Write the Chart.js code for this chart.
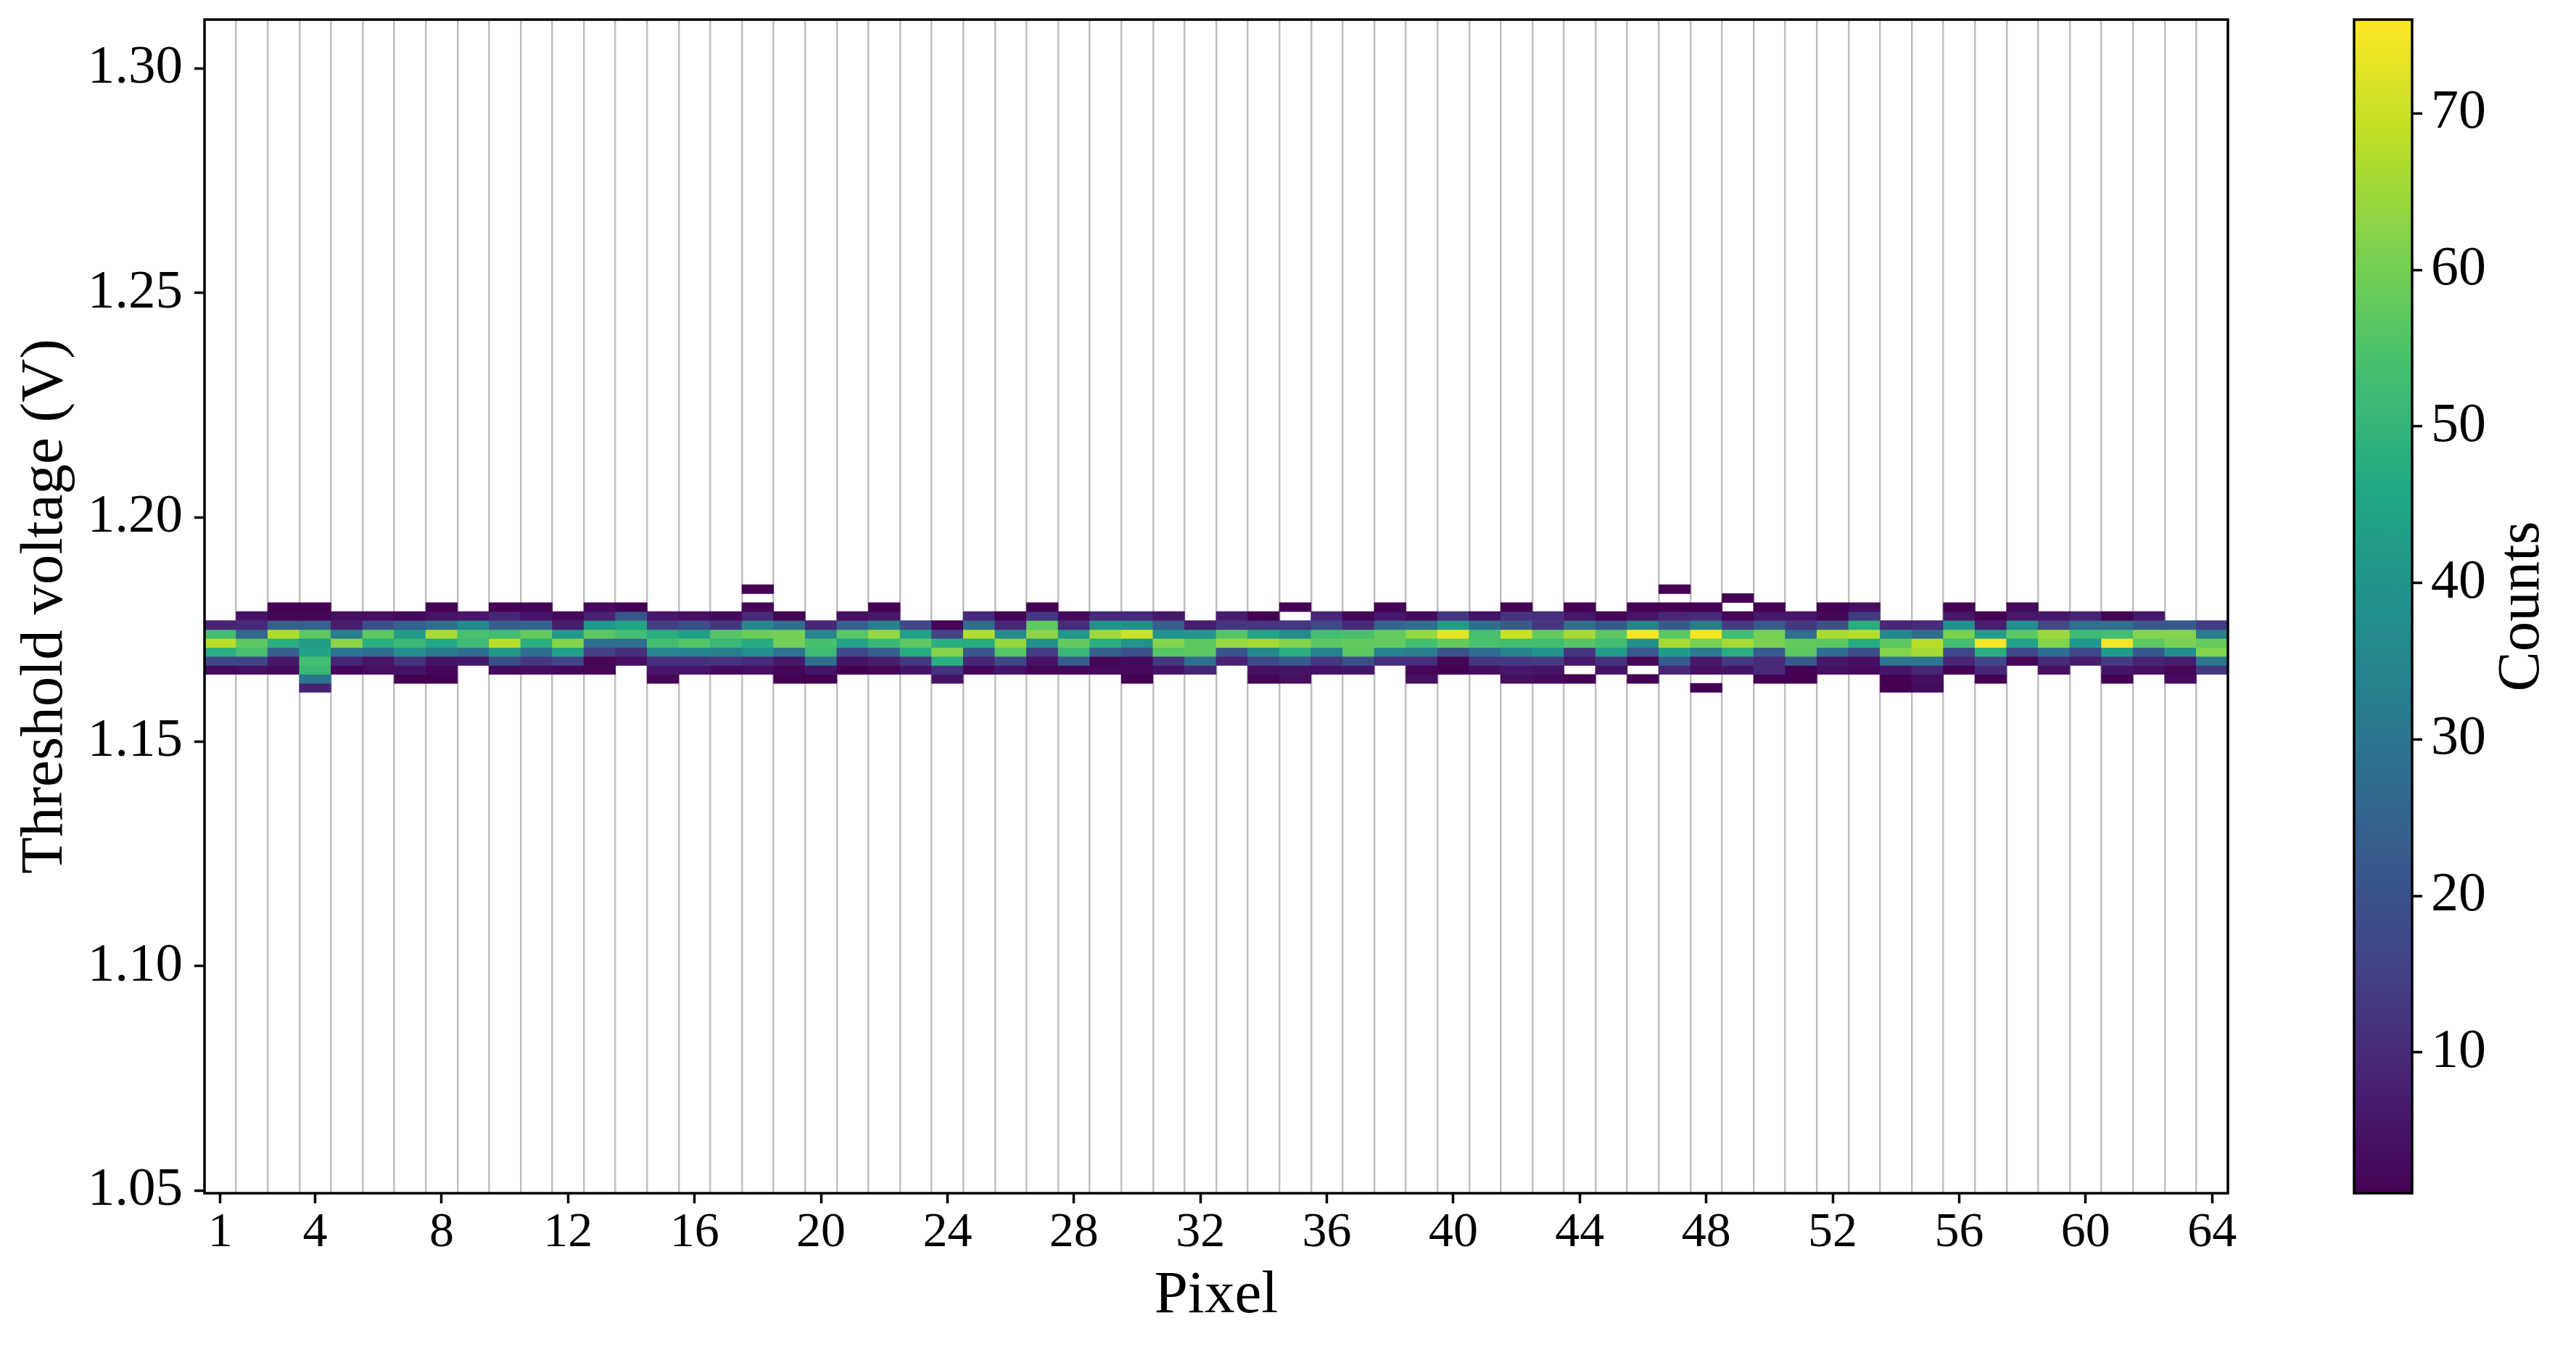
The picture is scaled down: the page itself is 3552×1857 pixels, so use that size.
<!DOCTYPE html>
<html>
<head>
<meta charset="utf-8">
<title>Threshold voltage per pixel</title>
<script src="https://cdn.jsdelivr.net/npm/chart.js@4.4.1/dist/chart.umd.min.js"></script>
<style>
    html, body { margin: 0; padding: 0; background: #fff; }
    body { width: 3552px; height: 1857px; position: relative; overflow: hidden; }
    #heatWrap { position: absolute; left: 0; top: 0; width: 3150px; height: 1857px; }
    #cbarWrap { position: absolute; left: 3150px; top: 0; width: 402px; height: 1857px; }
</style>
</head>
<body>
<div id="heatWrap"><canvas id="heatChart"></canvas></div>
<div id="cbarWrap"><canvas id="cbarChart"></canvas></div>
<script>
/**
 * Histograma 2D: tensão de limiar por pixel
 */

// Categorias (pixels) e eixos
const pixels = [1, 2, 3, 4, 5, 6, 7, 8, 9, 10, 11, 12, 13, 14, 15, 16,
    17, 18, 19, 20, 21, 22, 23, 24, 25, 26, 27, 28, 29, 30, 31, 32,
    33, 34, 35, 36, 37, 38, 39, 40, 41, 42, 43, 44, 45, 46, 47, 48,
    49, 50, 51, 52, 53, 54, 55, 56, 57, 58, 59, 60, 61, 62, 63, 64];
const xTicks = [1, 4, 8, 12, 16, 20, 24, 28, 32, 36, 40, 44, 48, 52, 56, 60, 64];
const yTicks = [1.05, 1.10, 1.15, 1.20, 1.25, 1.30];
const cbarTicks = [10, 20, 30, 40, 50, 60, 70];

// Centros dos bins de tensão (V), largura 0.002 V
const binCenters = [1.184, 1.182, 1.180, 1.178, 1.176, 1.174, 1.172, 1.170, 1.168, 1.166, 1.164, 1.162];
const binWidth = 0.002;

// Contagens por bin (uma linha por tensão, 64 pixels cada)
const counts1184 = [0,0,0,0,0,0,0,0, 0,0,0,0,0,0,0,0, 0,1,0,0,0,0,0,0, 0,0,0,0,0,0,0,0,
    0,0,0,0,0,0,0,0, 0,0,0,0,0,0,1,0, 0,0,0,0,0,0,0,0, 0,0,0,0,0,0,0,0];
const counts1182 = [0,0,0,0,0,0,0,0, 0,0,0,0,0,0,0,0, 0,0,0,0,0,0,0,0, 0,0,0,0,0,0,0,0,
    0,0,0,0,0,0,0,0, 0,0,0,0,0,0,0,0, 1,0,0,0,0,0,0,0, 0,0,0,0,0,0,0,0];
const counts1180 = [0,0,1,1,0,0,0,1, 0,1,2,0,3,1,0,0, 0,2,0,0,0,1,0,0, 0,0,1,0,0,0,0,0,
    0,0,1,0,0,1,0,0, 0,1,0,1,0,1,1,1, 0,1,0,1,4,0,0,1, 0,3,0,0,0,0,0,0];
const counts1178 = [0,5,2,2,4,4,3,5, 6,9,5,3,8,21,6,4, 3,10,1,0,4,6,0,0, 10,1,13,3,10,10,6,0,
    7,1,0,9,2,6,3,13, 5,12,11,6,2,5,9,10, 2,6,6,2,14,0,0,6, 1,6,6,8,1,6,0,0];
const counts1176 = [8,10,24,24,7,19,24,28, 36,23,25,7,40,45,15,19, 13,36,28,9,24,33,17,2, 28,9,57,10,39,38,23,7,
    13,13,13,17,10,25,28,42, 28,22,13,28,22,34,22,32, 14,22,13,19,48,9,10,38, 7,38,17,28,28,22,22,14];
const counts1174 = [53,26,67,57,33,57,42,66, 54,53,58,41,57,53,48,43, 56,59,60,35,56,64,44,16, 67,37,63,40,65,70,39,40,
    56,44,37,53,54,58,64,73, 54,70,58,66,57,76,57,75, 53,61,28,66,68,36,28,61, 42,57,65,52,53,62,62,32];
const counts1172 = [68,57,48,42,63,48,51,46, 52,68,48,62,28,28,53,56, 51,47,60,54,44,51,57,48, 47,64,38,58,48,39,62,57,
    64,66,62,57,58,58,53,58, 54,53,53,56,53,38,66,61, 66,61,58,57,47,57,68,53, 75,44,62,40,75,57,61,58];
const counts1170 = [48,54,24,44,30,28,38,32, 28,42,28,44,15,11,35,35, 33,38,30,52,17,24,47,62, 22,56,14,51,24,20,56,57,
    21,36,48,34,57,35,33,20, 28,34,40,13,42,22,42,32, 48,23,57,28,19,62,66,17, 48,17,28,17,42,22,38,62];
const counts1168 = [17,16,6,53,9,5,12,5, 6,19,13,16,2,4,11,11, 12,10,6,28,5,7,13,48, 9,17,5,23,2,3,13,28,
    8,17,22,13,19,11,11,2, 13,13,14,6,12,2,22,6, 13,10,22,6,4,30,30,9, 17,2,10,7,14,8,7,30];
const counts1166 = [3,4,3,51,2,4,5,2, 0,3,4,3,2,0,5,5, 3,4,2,5,1,2,5,12, 2,5,2,2,3,3,5,9,
    0,4,5,5,5,0,2,1, 4,6,5,0,5,0,9,4, 5,10,1,4,3,5,9,1, 9,0,4,0,5,4,2,13];
const counts1164 = [0,0,0,30,0,0,1,1, 0,0,0,0,0,0,2,0, 0,0,1,1,0,0,0,5, 0,0,0,0,0,1,0,0,
    0,2,4,0,0,0,4,0, 0,4,3,1,0,1,0,0, 0,1,1,0,0,1,4,0, 1,0,0,0,1,0,3,0];
const counts1162 = [0,0,0,8,0,0,0,0, 0,0,0,0,0,0,0,0, 0,0,0,0,0,0,0,0, 0,0,0,0,0,0,0,0,
    0,0,0,0,0,0,0,0, 0,0,0,0,0,0,0,1, 0,0,0,0,0,1,3,0, 0,0,0,0,0,0,0,0];

const rowCounts = [counts1184, counts1182, counts1180, counts1178, counts1176, counts1174,
    counts1172, counts1170, counts1168, counts1166, counts1164, counts1162];

// Escala de cores (viridis), contagem de 1 a 76
const countMin = 1;
const countMax = 76;
const viridisStops = [
    [68, 1, 84], [72, 36, 117], [65, 68, 135], [53, 95, 141], [42, 120, 142], [33, 145, 140],
    [34, 168, 132], [68, 191, 112], [122, 209, 81], [189, 223, 38], [253, 231, 37]
];

const FONT = '"Liberation Serif", "DejaVu Serif", serif';
Chart.defaults.font.family = FONT;
Chart.defaults.color = '#000';

function viridis(t) {
    t = Math.min(1, Math.max(0, t));
    const pos = t * (viridisStops.length - 1);
    const i = Math.min(Math.floor(pos), viridisStops.length - 2);
    const f = pos - i;
    const a = viridisStops[i], b = viridisStops[i + 1];
    const c = a.map((v, k) => Math.round(v + (b[k] - v) * f));
    return `rgb(${c[0]}, ${c[1]}, ${c[2]})`;
}

function countColor(c) {
    return viridis((c - countMin) / (countMax - countMin));
}

// Bordas dos pixels para as linhas cinzas verticais
const pixelEdges = [pixels[0] - 0.5, ...pixels.map(p => p + 0.5)];

// Moldura preta em volta da área do gráfico
const framePlugin = {
    id: 'frame',
    afterDraw(chart) {
        const { ctx, chartArea: a } = chart;
        ctx.save();
        ctx.strokeStyle = '#000';
        ctx.lineWidth = 3.5;
        ctx.strokeRect(a.left, a.top, a.right - a.left, a.bottom - a.top);
        ctx.restore();
    }
};

// Título "Counts" da barra de cores (lido de baixo para cima)
const cbarTitlePlugin = {
    id: 'cbarTitle',
    afterDraw(chart) {
        const { ctx, chartArea: a } = chart;
        ctx.save();
        ctx.translate(328, (a.top + a.bottom) / 2);
        ctx.rotate(-Math.PI / 2);
        ctx.font = `83px ${FONT}`;
        ctx.fillStyle = '#000';
        ctx.textAlign = 'center';
        ctx.textBaseline = 'middle';
        ctx.fillText('Counts', 0, 0);
        ctx.restore();
    }
};

function buildHeatDatasets() {
    return binCenters.map((v, r) => {
        const points = [];
        const colors = [];
        rowCounts[r].forEach((c, i) => {
            if (c > 0) {
                points.push({ x: pixels[i], y: [v - binWidth / 2, v + binWidth / 2] });
                colors.push(countColor(c));
            }
        });
        return {
            label: v.toFixed(3) + ' V',
            data: points,
            backgroundColor: colors,
            borderWidth: 0,
            grouped: false,
            barPercentage: 1,
            categoryPercentage: 1
        };
    });
}

function renderHeatmap() {
    const ctx = document.getElementById('heatChart').getContext('2d');
    new Chart(ctx, {
        type: 'bar',
        data: { datasets: buildHeatDatasets() },
        options: {
            responsive: true,
            maintainAspectRatio: false,
            animation: false,
            layout: { padding: { left: 0, top: 27, right: 78, bottom: 0 } },
            plugins: { legend: { display: false }, tooltip: { enabled: false } },
            scales: {
                x: {
                    type: 'linear', position: 'bottom', min: 0.5, max: 64.5,
                    offset: false, z: 1,
                    afterBuildTicks: s => { s.ticks = pixelEdges.map(v => ({ value: v })); },
                    afterFit: s => { s.height = 0; s.paddingLeft = 0; s.paddingRight = 0; },
                    ticks: { display: false },
                    grid: { offset: false, color: '#bfbfbf', lineWidth: 2.5, drawTicks: false },
                    border: { display: false }
                },
                x2: {
                    type: 'linear', position: 'bottom', min: 0.5, max: 64.5,
                    offset: false,
                    afterBuildTicks: s => { s.ticks = xTicks.map(v => ({ value: v })); },
                    afterFit: s => { s.height = 212; s.paddingLeft = 0; s.paddingRight = 0; },
                    ticks: {
                        font: { size: 68 }, color: '#000', padding: 0,
                        maxRotation: 0, autoSkip: false, callback: v => String(v)
                    },
                    grid: {
                        offset: false, drawOnChartArea: false, drawTicks: true,
                        tickLength: 14, tickWidth: 3.5, tickColor: '#000'
                    },
                    border: { display: false },
                    title: {
                        display: true, text: 'Pixel', color: '#000',
                        font: { size: 83 }, padding: { top: 0, bottom: 20 }
                    }
                },
                y: {
                    type: 'linear', position: 'left', min: 1.0494, max: 1.3109,
                    afterBuildTicks: s => { s.ticks = yTicks.map(v => ({ value: v })); },
                    afterFit: s => { s.width = 282; s.paddingTop = 0; s.paddingBottom = 0; },
                    ticks: { font: { size: 75 }, color: '#000', padding: 16, callback: v => v.toFixed(2) },
                    grid: { drawOnChartArea: false, tickLength: 14, tickWidth: 3.5, tickColor: '#000' },
                    border: { display: false },
                    title: {
                        display: true, text: 'Threshold voltage (V)', color: '#000',
                        font: { size: 83 }, padding: { top: 13, bottom: 0 }
                    }
                }
            }
        },
        plugins: [framePlugin]
    });
}

function renderColorbar() {
    const ctx = document.getElementById('cbarChart').getContext('2d');
    new Chart(ctx, {
        type: 'bar',
        data: {
            labels: ['Counts'],
            datasets: [{
                data: [[countMin, countMax]],
                backgroundColor: c => {
                    const area = c.chart.chartArea;
                    if (!area) return null;
                    const g = c.chart.ctx.createLinearGradient(0, area.bottom, 0, area.top);
                    viridisStops.forEach((s, i) => {
                        g.addColorStop(i / (viridisStops.length - 1), `rgb(${s[0]}, ${s[1]}, ${s[2]})`);
                    });
                    return g;
                },
                borderWidth: 0,
                barPercentage: 1,
                categoryPercentage: 1
            }]
        },
        options: {
            responsive: true,
            maintainAspectRatio: false,
            animation: false,
            layout: { padding: { left: 96, top: 27, right: 0, bottom: 212 } },
            plugins: { legend: { display: false }, tooltip: { enabled: false } },
            scales: {
                x: { display: false },
                y: {
                    position: 'right', min: countMin, max: countMax,
                    afterBuildTicks: s => { s.ticks = cbarTicks.map(v => ({ value: v })); },
                    afterFit: s => { s.width = 226; s.paddingTop = 0; s.paddingBottom = 0; },
                    ticks: { font: { size: 76 }, color: '#000', padding: 12 },
                    grid: { drawOnChartArea: false, tickLength: 14, tickWidth: 3.5, tickColor: '#000' },
                    border: { display: false }
                }
            }
        },
        plugins: [framePlugin, cbarTitlePlugin]
    });
}

renderHeatmap();
renderColorbar();
</script>
</body>
</html>
